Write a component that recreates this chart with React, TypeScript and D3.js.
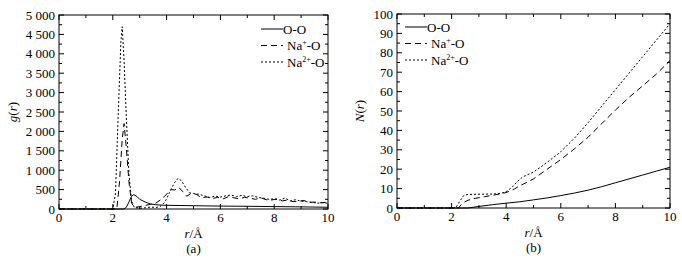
import React from "react";
import * as d3 from "d3";

// ---------- data ----------
// (a) g(r)
const gOO_r = [0, 2.4, 2.5, 2.6, 2.7, 2.78, 2.9, 3.0, 3.2, 3.4, 3.6, 3.8, 4.0, 4.5, 5.0, 5.5, 6.0, 7.0, 8.0, 9.0, 10.0];
const gOO_v = [0, 0, 40, 180, 330, 370, 320, 250, 180, 130, 110, 100, 95, 90, 85, 80, 75, 70, 62, 55, 45];

const gNa1_r = [0, 2.15, 2.25, 2.35, 2.42, 2.5, 2.6, 2.7, 2.8, 3.0, 3.2, 3.4, 3.6, 3.8, 4.0, 4.1, 4.2, 4.3, 4.45, 4.6, 4.75, 4.9, 5.1, 5.3, 5.5, 5.7, 5.9, 6.1, 6.3, 6.5, 6.7, 6.9, 7.1, 7.3, 7.5, 7.7, 7.9, 8.1, 8.3, 8.5, 8.7, 8.9, 9.1, 9.3, 9.5, 9.7, 9.9, 10.0];
const gNa1_v = [0, 0, 700, 1800, 2200, 1600, 700, 150, 40, 60, 90, 120, 150, 250, 380, 470, 500, 490, 560, 450, 330, 400, 380, 290, 310, 270, 300, 260, 320, 290, 260, 300, 280, 250, 290, 240, 230, 260, 210, 230, 190, 200, 220, 170, 180, 160, 170, 200];

const gNa2_r = [0, 2.0, 2.1, 2.2, 2.3, 2.35, 2.42, 2.5, 2.6, 2.7, 2.8, 3.0, 3.2, 3.4, 3.6, 3.75, 3.9, 4.0, 4.1, 4.2, 4.3, 4.42, 4.55, 4.7, 4.85, 5.0, 5.2, 5.4, 5.6, 5.8, 6.0, 6.2, 6.4, 6.6, 6.8, 7.0, 7.2, 7.4, 7.6, 7.8, 8.0, 8.2, 8.4, 8.6, 8.8, 9.0, 9.2, 9.4, 9.6, 9.8, 10.0];
const gNa2_v = [0, 0, 400, 2400, 4300, 4700, 3800, 2400, 900, 200, 40, 20, 30, 50, 40, 60, 150, 260, 420, 560, 680, 790, 730, 560, 420, 400, 380, 340, 300, 330, 310, 340, 360, 320, 350, 320, 340, 300, 280, 250, 260, 230, 280, 210, 240, 200, 190, 170, 150, 160, 150];

// (b) N(r)
const nOO_r = [0, 2.6, 3.0, 3.5, 4.0, 4.5, 5.0, 5.5, 6.0, 6.5, 7.0, 7.5, 8.0, 8.5, 9.0, 9.5, 10.0];
const nOO_v = [0, 0, 0.8, 1.7, 2.5, 3.2, 4.2, 5.2, 6.4, 7.7, 9.2, 11.0, 13.0, 15.0, 17.0, 19.0, 21.0];

const nNa1_r = [0, 2.25, 2.4, 2.6, 2.8, 3.2, 3.6, 3.9, 4.1, 4.3, 4.5, 4.8, 5.0, 5.5, 6.0, 6.5, 7.0, 7.5, 8.0, 8.5, 9.0, 9.5, 10.0];
const nNa1_v = [0, 0, 2.5, 4.0, 4.8, 5.8, 6.8, 7.6, 8.5, 9.8, 11.5, 13.5, 15.0, 20.0, 25.0, 30.5, 36.5, 43.5, 50.5, 57.0, 63.0, 69.0, 76.0];

const nNa2_r = [0, 2.15, 2.3, 2.45, 2.6, 3.0, 3.5, 3.8, 4.0, 4.2, 4.4, 4.6, 5.0, 5.5, 6.0, 6.5, 7.0, 7.5, 8.0, 8.5, 9.0, 9.5, 10.0];
const nNa2_v = [0, 0, 3.5, 6.5, 7.0, 7.1, 7.2, 7.5, 8.5, 10.5, 13.5, 16.0, 18.5, 23.5, 29.0, 36.0, 44.0, 52.5, 61.0, 69.5, 78.0, 86.5, 95.0];

const xTicks = [0, 2, 4, 6, 8, 10];
const gTicks = [0, 500, 1000, 1500, 2000, 2500, 3000, 3500, 4000, 4500, 5000];
const gTickLabels = ["0", "500", "1 000", "1 500", "2 000", "2 500", "3 000", "3 500", "4 000", "4 500", "5 000"];
const nTicks = [0, 10, 20, 30, 40, 50, 60, 70, 80, 90, 100];

const seriesNames = ["O-O", "Na+-O", "Na2+-O"];

const FONT = "Liberation Serif";
const dashes = [null, "6,4", "2,2"];

type Series = { r: number[]; v: number[] };

function Panel(props: {
  x0: number; x1: number; y0: number; y1: number;
  yMax: number; yTicks: number[]; yLabels: string[]; yMinorStep: number;
  series: Series[]; yTitle: string; caption: string;
  legendX: number; legendY: number; titleX: number;
}) {
  const { x0, x1, y0, y1, yMax, yTicks, yLabels, yMinorStep, series, yTitle, caption, legendX, legendY, titleX } = props;
  const xs = d3.scaleLinear().domain([0, 10]).range([x0, x1]);
  const ys = d3.scaleLinear().domain([0, yMax]).range([y1, y0]);
  const line = (s: Series) =>
    d3.line<number>().x((_, i) => xs(s.r[i])).y((d) => ys(d))(s.v) || "";
  const xMinor = d3.range(0, 10.001, 1);
  const yMinor = d3.range(0, yMax + 0.001, yMinorStep);
  const ticks: any[] = [];
  xMinor.forEach((t, i) => {
    const major = xTicks.includes(t);
    const L = major ? 5 : 3;
    ticks.push(<line key={"xb" + i} x1={xs(t)} x2={xs(t)} y1={y1} y2={y1 - L} stroke="#000" />);
    ticks.push(<line key={"xt" + i} x1={xs(t)} x2={xs(t)} y1={y0} y2={y0 + L} stroke="#000" />);
  });
  yMinor.forEach((t, i) => {
    const major = yTicks.includes(t);
    const L = major ? 5 : 3;
    ticks.push(<line key={"yl" + i} x1={x0} x2={x0 + L} y1={ys(t)} y2={ys(t)} stroke="#000" />);
    ticks.push(<line key={"yr" + i} x1={x1} x2={x1 - L} y1={ys(t)} y2={ys(t)} stroke="#000" />);
  });
  const cx = (x0 + x1) / 2;
  return (
    <g fontFamily={FONT} fontSize={13} fill="#000">
      {series.map((s, i) => (
        <path key={"s" + i} d={line(s)} fill="none" stroke="#000" strokeWidth={1}
          strokeDasharray={dashes[i] || undefined} />
      ))}
      <rect x={x0} y={y0} width={x1 - x0} height={y1 - y0} fill="none" stroke="#000" strokeWidth={1} />
      {ticks}
      {xTicks.map((t) => (
        <text key={"xl" + t} x={xs(t)} y={y1 + 13} textAnchor="middle">{t}</text>
      ))}
      {yTicks.map((t, i) => (
        <text key={"ylb" + t} x={x0 - 4} y={ys(t) + 4.5} textAnchor="end">{yLabels[i]}</text>
      ))}
      <text transform={`translate(${titleX},${(y0 + y1) / 2}) rotate(-90)`} textAnchor="middle">
        {yTitle === "g" ? <tspan fontStyle="italic">g</tspan> : <tspan fontStyle="italic">N</tspan>}
        (<tspan fontStyle="italic">r</tspan>)
      </text>
      <text x={cx} y={y1 + 29} textAnchor="middle">
        <tspan fontStyle="italic">r</tspan>/Å
      </text>
      <text x={cx} y={y1 + 44} textAnchor="middle">{caption}</text>
      {seriesNames.map((n, i) => {
        const yy = legendY + i * 16.5;
        return (
          <g key={"lg" + i}>
            <line x1={legendX} x2={legendX + 22} y1={yy} y2={yy} stroke="#000"
              strokeDasharray={dashes[i] || undefined} />
            <text x={legendX + (i === 0 ? 22 : 26)} y={yy + 4.5}>
              {i === 0 ? "O-O" : i === 1 ? (
                <>Na<tspan dy={-5} fontSize={8}>+</tspan><tspan dy={5}>-O</tspan></>
              ) : (
                <>Na<tspan dy={-5} fontSize={8}>2+</tspan><tspan dy={5}>-O</tspan></>
              )}
            </text>
          </g>
        );
      })}
    </g>
  );
}

export default function App() {
  return (
    <svg width={682} height={266} fontFamily={FONT} style={{ display: "block", position: "absolute", left: 0, top: 0, background: "#fff" }}>
      <rect width={682} height={266} fill="#fff" />
      <Panel x0={59} x1={328} y0={15} y1={209} yMax={5000} yTicks={gTicks} yLabels={gTickLabels}
        yMinorStep={250}
        series={[{ r: gOO_r, v: gOO_v }, { r: gNa1_r, v: gNa1_v }, { r: gNa2_r, v: gNa2_v }]}
        yTitle="g" caption="(a)" legendX={261} legendY={29} titleX={17} />
      <Panel x0={397} x1={670} y0={14} y1={208} yMax={100} yTicks={nTicks} yLabels={nTicks.map(String)}
        yMinorStep={5}
        series={[{ r: nOO_r, v: nOO_v }, { r: nNa1_r, v: nNa1_v }, { r: nNa2_r, v: nNa2_v }]}
        yTitle="N" caption="(b)" legendX={405} legendY={27} titleX={364} />
    </svg>
  );
}
